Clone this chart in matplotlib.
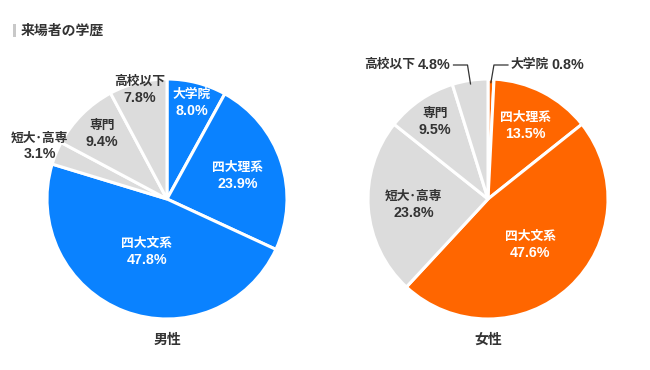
import numpy as np
import matplotlib
matplotlib.use("Agg")
import matplotlib.pyplot as plt

plt.rcParams['font.family'] = ['Liberation Sans', 'Noto Sans CJK JP', 'DejaVu Sans']

title = "来場者の学歴"
categories = ["大学院", "四大理系", "四大文系", "短大･高専", "専門", "高校以下"]
male_values = [8.0, 23.9, 47.8, 3.1, 9.4, 7.8]
female_values = [0.8, 13.5, 47.6, 23.8, 9.5, 4.8]
group_names = ["男性", "女性"]

W, H = 650, 370
fig = plt.figure(figsize=(6.5, 3.7), dpi=100)
ax = fig.add_axes([0, 0, 1, 1])
ax.set_xlim(0, W)
ax.set_ylim(0, H)

BLUE = "#0A82FF"
ORANGE = "#FF6600"
GRAY = "#DCDCDC"
DARK = "#333333"
CJK_FS = 9.2
NUM_FS = 10.3

renderer = fig.canvas.get_renderer()

def px(x, y):
    return x, H - y

R = 120
centers = [px(167, 199), px(488, 199)]
hl = [BLUE, ORANGE]
# label radial distances (fraction of radius); None = leader-line label
male_dist = [0.83, 0.62, 0.47, 1.15, 0.77, 0.94]
female_dist = [None, 0.68, 0.52, 0.62, 0.78, None]

def width_of(t):
    bb = t.get_window_extent(renderer=renderer)
    return bb.width

def draw(values, center, color, dists, name):
    colors = [color] * 3 + [GRAY] * 3
    ax.pie(values, colors=colors, startangle=90, counterclock=False,
           center=center, radius=R, frame=True,
           wedgeprops=dict(edgecolor="white", linewidth=2.2))
    cum = np.cumsum([0] + values)
    for i, (cat, v) in enumerate(zip(categories, values)):
        mid = (cum[i] + v / 2) / 100 * 360
        th = np.deg2rad(mid)
        d = dists[i]
        tc = "white" if i < 3 else DARK
        if d is not None:
            if d > 1:
                tc = DARK
            x = center[0] + d * R * np.sin(th)
            y = center[1] + d * R * np.cos(th)
            ax.text(x, y + 8, cat, ha="center", va="center",
                    fontsize=CJK_FS, fontweight="bold", color=tc)
            ax.text(x, y - 8, f"{v:.1f}%", ha="center", va="center",
                    fontsize=NUM_FS, fontweight="bold", color=tc)
        else:
            ax_x = center[0] + 0.97 * R * np.sin(th)
            ax_y = center[1] + 0.97 * R * np.cos(th)
            ey = center[1] + R + 14
            side = 1 if np.sin(th) >= 0 else -1
            ex = ax_x + side * 3
            hx = ex + side * 14
            ax.plot([ax_x, ex, hx], [ax_y, ey, ey], color=DARK, lw=0.9)
            x0 = hx + side * 3
            if side > 0:
                t1 = ax.text(x0, ey, cat, ha="left", va="center",
                             fontsize=CJK_FS, fontweight="bold", color=DARK)
                w = width_of(t1)
                ax.text(x0 + w + 2.5, ey, f"{v:.1f}%", ha="left", va="center",
                        fontsize=NUM_FS, fontweight="bold", color=DARK)
            else:
                t2 = ax.text(x0, ey, f"{v:.1f}%", ha="right", va="center",
                             fontsize=NUM_FS, fontweight="bold", color=DARK)
                w = width_of(t2)
                ax.text(x0 - w - 2.5, ey, cat, ha="right", va="center",
                        fontsize=CJK_FS, fontweight="bold", color=DARK)
    ax.text(center[0], H - 340, name, ha="center", va="center",
            fontsize=10, fontweight="bold", color=DARK)

draw(male_values, centers[0], hl[0], male_dist, group_names[0])
draw(female_values, centers[1], hl[1], female_dist, group_names[1])

# title with gray bar
ax.add_patch(plt.Rectangle(px(13, 37), 3, 13, color="#C8C8C8", lw=0))
ax.text(*px(21, 30.5), title, ha="left", va="center", fontsize=10,
        fontweight="bold", color=DARK)

ax.set_xlim(0, W)
ax.set_ylim(0, H)
ax.set_aspect("auto")
ax.axis("off")

fig.savefig("out.png", dpi=100, facecolor="white")
